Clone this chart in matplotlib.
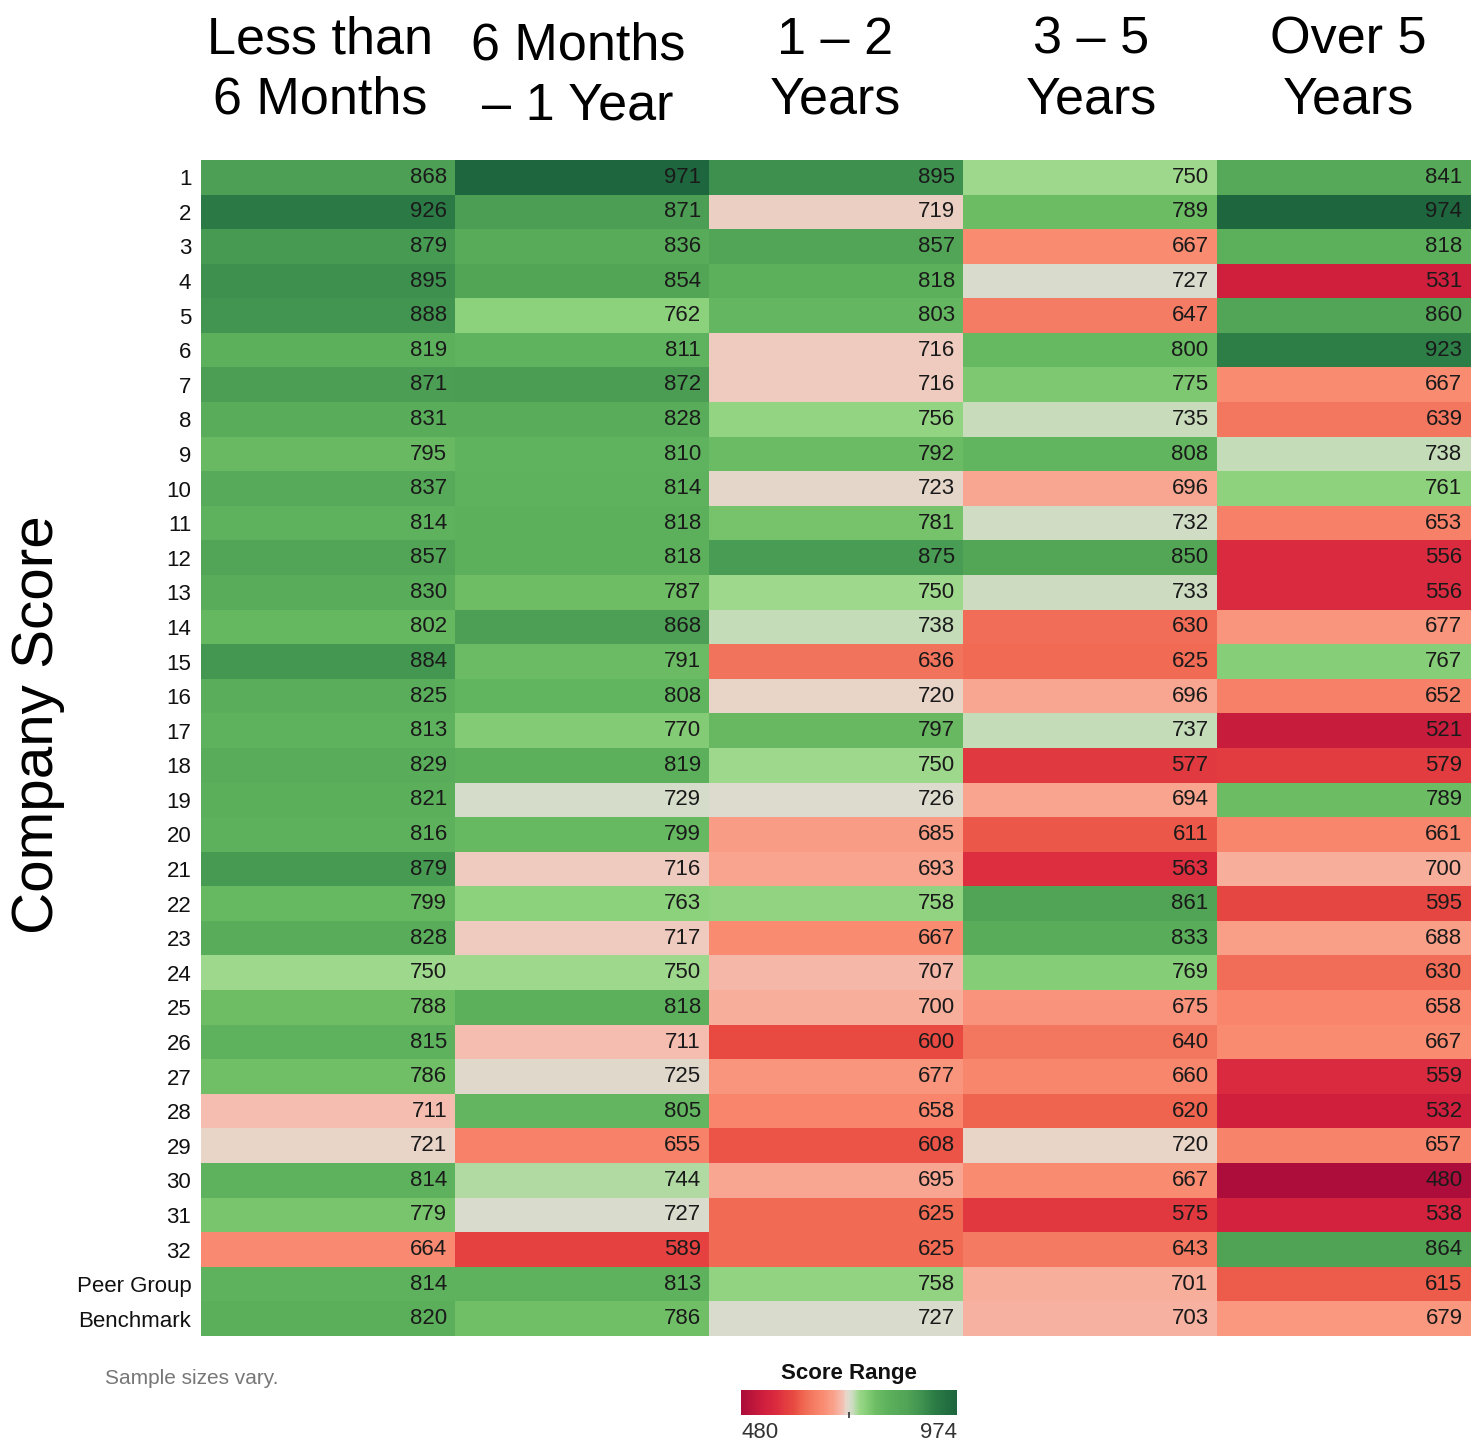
import numpy as np
import matplotlib
matplotlib.use('Agg')
import matplotlib.pyplot as plt
from matplotlib.colors import LinearSegmentedColormap, Normalize

plt.rcParams['font.family'] = ['Liberation Sans', 'DejaVu Sans']

# column headers and row labels
columns = ['Less than\n6 Months', '6 Months\n\u2013 1 Year', '1 \u2013 2\nYears', '3 \u2013 5\nYears', 'Over 5\nYears']
rows = [str(i) for i in range(1, 33)] + ['Peer Group', 'Benchmark']

# scores per tenure column
less_6m = [868, 926, 879, 895, 888, 819, 871, 831, 795, 837, 814, 857, 830, 802, 884, 825, 813,
           829, 821, 816, 879, 799, 828, 750, 788, 815, 786, 711, 721, 814, 779, 664, 814, 820]
m6_1y = [971, 871, 836, 854, 762, 811, 872, 828, 810, 814, 818, 818, 787, 868, 791, 808, 770,
         819, 729, 799, 716, 763, 717, 750, 818, 711, 725, 805, 655, 744, 727, 589, 813, 786]
y1_2 = [895, 719, 857, 818, 803, 716, 716, 756, 792, 723, 781, 875, 750, 738, 636, 720, 797,
        750, 726, 685, 693, 758, 667, 707, 700, 600, 677, 658, 608, 695, 625, 625, 758, 727]
y3_5 = [750, 789, 667, 727, 647, 800, 775, 735, 808, 696, 732, 850, 733, 630, 625, 696, 737,
        577, 694, 611, 563, 861, 833, 769, 675, 640, 660, 620, 720, 667, 575, 643, 701, 703]
over_5 = [841, 974, 818, 531, 860, 923, 667, 639, 738, 761, 653, 556, 556, 677, 767, 652, 521,
          579, 789, 661, 700, 595, 688, 630, 658, 667, 559, 532, 657, 480, 538, 864, 615, 679]

vmin, vmax = 480, 974

# colour anchors (score, colour)
anchors = [(480, '#ac0d3a'), (531, '#d0203e'), (560, '#dc2c40'), (577, '#e23a40'),
           (600, '#e84a42'), (620, '#f06550'), (640, '#f47860'), (667, '#fa8c72'),
           (693, '#f9a48e'), (710, '#f5bcae'), (720, '#ead4c8'), (727, '#dcdcd0'),
           (738, '#c4dcb8'), (750, '#9cd88a'), (765, '#8ad07a'), (790, '#6cbc64'),
           (820, '#5cb05c'), (860, '#52a456'), (895, '#3f9250'), (925, '#2c7c46'),
           (974, '#1e663e')]
cmap = LinearSegmentedColormap.from_list(
    'score', [((v - vmin) / (vmax - vmin), c) for v, c in anchors])
norm = Normalize(vmin=vmin, vmax=vmax)

data = np.array([less_6m, m6_1y, y1_2, y3_5, over_5]).T
nrows, ncols = data.shape

W, H = 1473, 1446
fig = plt.figure(figsize=(W / 100, H / 100), dpi=100)

# main heatmap
ax = fig.add_axes([201 / W, (H - 1336) / H, 1269 / W, 1176 / H])
ax.imshow(data, cmap=cmap, norm=norm, aspect='auto', interpolation='nearest',
          extent=(0, ncols, nrows, 0))
for i in range(nrows):
    for j in range(ncols):
        ax.text(j + 1 - 0.03, i + 0.5, str(data[i, j]), ha='right', va='center',
                fontsize=16, color='#1a1a1a')

ax.set_xlim(0, ncols)
ax.set_ylim(nrows, 0)
ax.set_xticks([])
ax.set_yticks(np.arange(nrows) + 0.5)
ax.set_yticklabels(rows, fontsize=16, color='#111111')
ax.tick_params(axis='y', length=0, pad=7)
for s in ax.spines.values():
    s.set_visible(False)

# column headers
header_x = [320, 578, 835, 1091, 1348]
header_bottom = [125, 131, 125, 125, 125]
for name, hx, hb in zip(columns, header_x, header_bottom):
    fig.text(hx / W, (H - hb) / H, name, ha='center', va='bottom',
             fontsize=37.5, color='black', linespacing=1.3)

# y-axis title
fig.text(38 / W, 1 - 725 / H, 'Company Score', rotation=90, ha='center', va='center',
         fontsize=42, color='black')

# footnote
fig.text(105 / W, 1 - 1378 / H, 'Sample sizes vary.', ha='left', va='center',
         fontsize=15, color='#777777')

# colour scale
cax = fig.add_axes([741 / W, (H - 1415) / H, 216 / W, 25 / H])
grad = np.linspace(vmin, vmax, 300).reshape(1, -1)
cax.imshow(grad, cmap=cmap, norm=norm, aspect='auto', extent=(vmin, vmax, 0, 1))
cax.set_yticks([])
cax.set_xticks([(vmin + vmax) / 2])
cax.set_xticklabels([''])
cax.tick_params(axis='x', length=4, width=1.2, color='#333333', direction='inout')
for s in cax.spines.values():
    s.set_visible(False)
fig.text(849 / W, 1 - 1373 / H, 'Score Range', ha='center', va='center',
         fontsize=16, fontweight='bold', color='#111111')
fig.text(741 / W, 1 - 1432 / H, str(vmin), ha='left', va='center', fontsize=16, color='#333333')
fig.text(957 / W, 1 - 1432 / H, str(vmax), ha='right', va='center', fontsize=16, color='#333333')

fig.savefig('out.png', dpi=100, facecolor='white')
